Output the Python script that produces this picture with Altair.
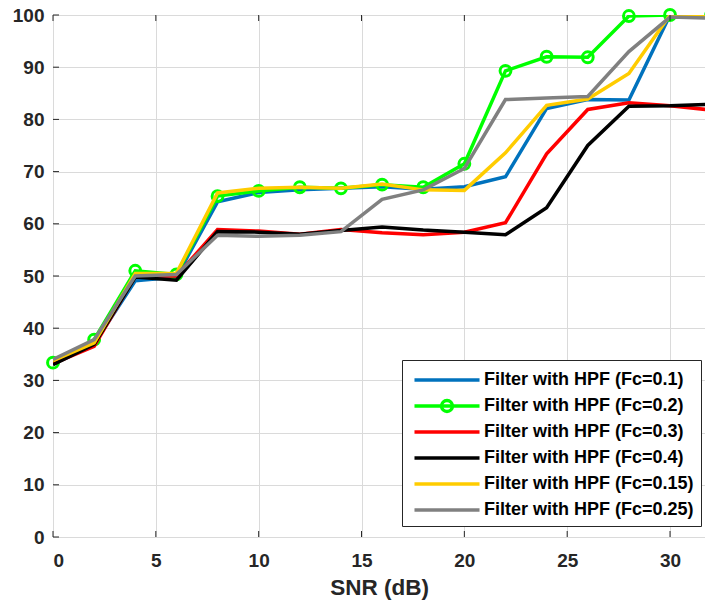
import altair as alt
import pandas as pd

# SNR sweep (dB) and detection accuracy (%) for each high-pass cutoff
snr = [0, 2, 4, 6, 8, 10, 12, 14, 16, 18, 20, 22, 24, 26, 28, 30, 32]
fc_01 = [33.5, 37.0, 49.1, 49.8, 64.2, 66.0, 66.5, 66.8, 67.1, 66.6, 67.1, 69.0, 82.1, 83.8, 83.7, 100.0, 100.0]
fc_02 = [33.4, 37.8, 51.0, 50.3, 65.3, 66.3, 67.0, 66.8, 67.5, 67.0, 71.5, 89.3, 92.0, 91.9, 99.8, 100.0, 100.0]
fc_03 = [33.2, 36.5, 50.0, 50.0, 58.9, 58.6, 58.0, 58.9, 58.3, 57.9, 58.4, 60.2, 73.4, 81.9, 83.2, 82.6, 81.8]
fc_04 = [33.0, 36.9, 49.8, 49.2, 58.5, 58.4, 58.0, 58.7, 59.4, 58.8, 58.4, 57.9, 63.1, 75.0, 82.5, 82.6, 82.9]
fc_015 = [33.8, 37.2, 50.5, 50.5, 65.9, 66.8, 67.0, 66.8, 67.6, 66.5, 66.4, 73.6, 82.7, 83.9, 88.8, 100.0, 100.0]
fc_025 = [34.0, 37.8, 50.0, 50.3, 57.8, 57.6, 57.8, 58.5, 64.7, 66.5, 70.6, 83.8, 84.1, 84.4, 93.0, 99.6, 99.4]

series_names = [
    "Filter with HPF (Fc=0.1)",
    "Filter with HPF (Fc=0.2)",
    "Filter with HPF (Fc=0.3)",
    "Filter with HPF (Fc=0.4)",
    "Filter with HPF (Fc=0.15)",
    "Filter with HPF (Fc=0.25)",
]
series_values = [fc_01, fc_02, fc_03, fc_04, fc_015, fc_025]
series_colors = ["#0072BD", "#00FF00", "#FF0000", "#000000", "#FFCC00", "#808080"]
marker_index = 1  # only the Fc=0.2 curve carries circle markers
marker_ids = [f"mk{i}" for i in range(len(series_names))]

x_ticks = [0, 5, 10, 15, 20, 25, 30]
y_ticks = [0, 10, 20, 30, 40, 50, 60, 70, 80, 90, 100]

rows = []
for name, mk, vals in zip(series_names, marker_ids, series_values):
    for s, v in zip(snr, vals):
        rows.append({"snr": s, "acc": v, "series": name, "marker": mk})
df = pd.DataFrame(rows)

W, H = 652, 522
FONT = "Liberation Sans"
AXIS_COLOR = "#262626"
GRID_COLOR = "#DADADA"
LINE_W = 3.5

x_scale = alt.Scale(domain=[0, 31.7], nice=False, zero=False)
y_scale = alt.Scale(domain=[0, 100], nice=False)
color_scale = alt.Scale(domain=series_names, range=series_colors)

# symbol paths in unit coordinates: a long legend line and a small open circle
SYM_SIZE = 470
line_path = "M-3,0H3"
circle_path = "M0.5,0A0.5,0.5,0,1,1,-0.5,0A0.5,0.5,0,1,1,0.5,0Z"
empty_path = "M0,0Z"
marker_scale = alt.Scale(
    domain=marker_ids,
    range=[circle_path if i == marker_index else empty_path for i in range(len(marker_ids))],
)

legend_common = dict(
    orient="none",
    legendX=349,
    legendY=345,
    title=None,
    labelFont=FONT,
    labelFontSize=18,
    labelFontWeight="bold",
    labelColor="#000000",
    labelLimit=400,
    symbolSize=SYM_SIZE,
    symbolStrokeWidth=LINE_W,
    symbolOffset=25,
    labelOffset=24,
    padding=7,
    rowPadding=4,
)

x_axis = alt.Axis(
    values=x_ticks, grid=True, gridColor=GRID_COLOR, gridWidth=1, domain=False,
    ticks=False, labelFont=FONT, labelFontSize=19, labelFontWeight="bold",
    labelColor=AXIS_COLOR, labelPadding=14, title="SNR (dB)", titleFont=FONT,
    titleFontSize=22.5, titleFontWeight="bold", titleColor=AXIS_COLOR, titlePadding=6,
)
y_axis = alt.Axis(
    values=y_ticks, grid=True, gridColor=GRID_COLOR, gridWidth=1, domain=False,
    ticks=False, labelFont=FONT, labelFontSize=19, labelFontWeight="bold",
    labelColor=AXIS_COLOR, labelPadding=9, title=None,
)

X = alt.X("snr:Q", scale=x_scale, axis=x_axis)
Y = alt.Y("acc:Q", scale=y_scale, axis=y_axis)

layers = []
for i, name in enumerate(series_names):
    sub = df[df["series"] == name]
    layers.append(
        alt.Chart(sub).mark_line(strokeWidth=LINE_W, clip=True).encode(
            x=X, y=Y,
            color=alt.Color(
                "series:N", scale=color_scale, sort=series_names,
                legend=alt.Legend(symbolType=line_path, strokeColor=AXIS_COLOR,
                                  fillColor="white", **legend_common),
            ),
        )
    )
    if i == marker_index:
        # marker-only legend stacked on the line legend so the circle sits on its line
        layers.append(
            alt.Chart(sub).mark_point(filled=False, strokeWidth=3, size=SYM_SIZE,
                                      color=series_colors[i], opacity=1).encode(
                x=X, y=Y,
                shape=alt.Shape(
                    "marker:N", scale=marker_scale, sort=marker_ids,
                    legend=alt.Legend(symbolStrokeColor=series_colors[i],
                                      symbolFillColor="transparent",
                                      labelExpr="' '", **legend_common),
                ),
            )
        )

# inward tick marks on the box edges
xt = pd.DataFrame({"snr": x_ticks})
yt = pd.DataFrame({"acc": y_ticks})
tick_style = dict(color=AXIS_COLOR, strokeWidth=1)
ticks_bottom = alt.Chart(xt).mark_rule(**tick_style).encode(
    x=X, y=alt.value(H - 6), y2=alt.value(H))
ticks_top = alt.Chart(xt).mark_rule(**tick_style).encode(
    x=X, y=alt.value(0), y2=alt.value(6))
ticks_left = alt.Chart(yt).mark_rule(**tick_style).encode(
    y=Y, x=alt.value(0), x2=alt.value(6))

chart = alt.layer(*layers, ticks_bottom, ticks_top, ticks_left).properties(
    width=W,
    height=H,
    autosize="none",
    padding={"left": 53, "top": 15, "right": 0, "bottom": 66},
).configure_view(
    stroke=AXIS_COLOR, strokeWidth=1.5
).configure(background="white")

chart.save("out.html", embed_options={"renderer": "svg", "actions": False})
